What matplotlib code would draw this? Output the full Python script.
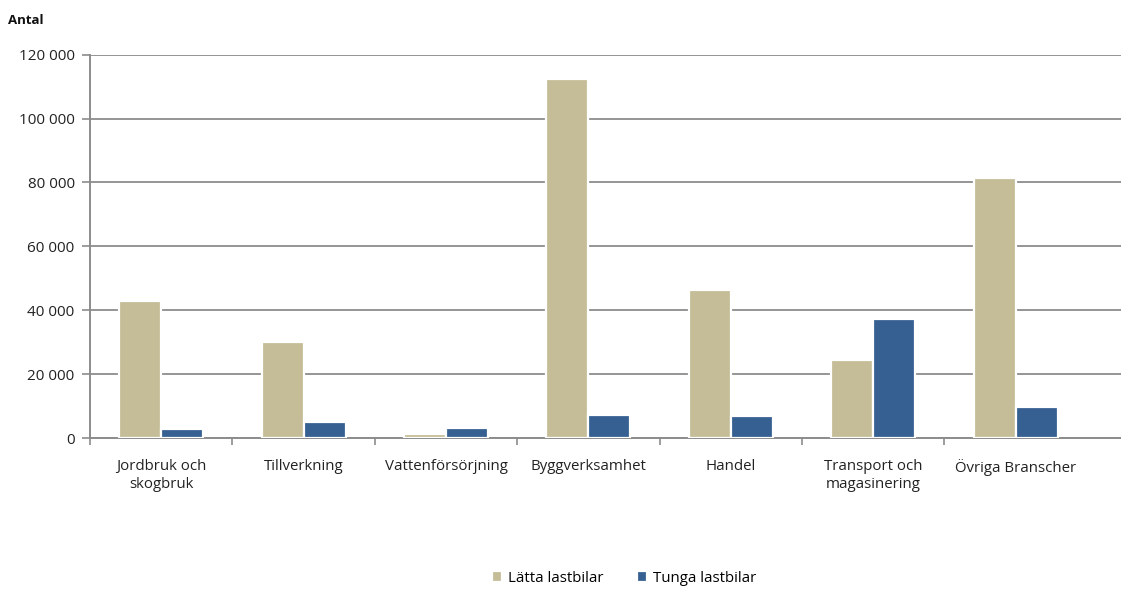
import matplotlib
matplotlib.use("Agg")
import matplotlib.pyplot as plt
import numpy as np
from matplotlib.ticker import FuncFormatter, MultipleLocator

categories = ["Jordbruk och\nskogbruk", "Tillverkning", "Vattenförsörjning",
              "Byggverksamhet", "Handel", "Transport och\nmagasinering",
              "Övriga Branscher"]
latta = [43000, 30000, 1200, 112500, 46200, 24400, 81300]
tunga = [2900, 4900, 3200, 7300, 6900, 37300, 9700]
series_names = ["Lätta lastbilar", "Tunga lastbilar"]

plt.rcParams['font.family'] = ['Open Sans', 'DejaVu Sans']

fig = plt.figure(figsize=(11.21, 5.90), dpi=100)
ax = fig.add_axes([90/1121, 152/590, 1 - 90/1121, (438-54.7)/590])

x = np.arange(len(categories))
w = 0.295
tan = "#C4BD97"
blue = "#376092"
ax.bar(x - w/2, latta, width=w, color=tan, edgecolor="white", linewidth=1.6,
       label=series_names[0], zorder=3)
ax.bar(x + w/2, tunga, width=w, color=blue, edgecolor="white", linewidth=1.6,
       label=series_names[1], zorder=3)

ax.set_ylim(0, 120000)
ax.set_xlim(-0.5, 6.74)
ax.yaxis.set_major_locator(MultipleLocator(20000))
ax.yaxis.set_major_formatter(FuncFormatter(lambda v, p: f"{int(v):,}".replace(",", " ")))
ax.grid(axis="y", color="#8c8c8c", linewidth=1.3, zorder=0)
ax.set_axisbelow(True)

ax.set_xticks(x)
ax.set_xticklabels(categories, fontsize=10.8, color="#222222", linespacing=1.3)
ax.set_xticks(np.arange(-0.5, 5.6, 1.0), minor=True)
ax.tick_params(axis="x", which="major", length=0, pad=15)
ax.tick_params(axis="x", which="minor", length=5, color="#8c8c8c", width=1.2)
ax.tick_params(axis="y", length=6, color="#8c8c8c", width=1.2, labelsize=11,
               labelcolor="#222222", pad=5)

for s in ["top", "right"]:
    ax.spines[s].set_visible(False)
for s in ["left", "bottom"]:
    ax.spines[s].set_color("#8c8c8c")
    ax.spines[s].set_linewidth(1.4)

fig.text(8/1121, 1 - 21/590, "Antal", fontsize=9.5, fontweight="bold",
         va="center", ha="left", color="#111111")

ax.legend(loc="center", bbox_to_anchor=(624/1121, 1 - 578/590),
          bbox_transform=fig.transFigure, ncol=2, frameon=False, fontsize=10.8,
          handlelength=0.7, handleheight=0.7, handletextpad=0.4, columnspacing=2.2,
          borderpad=0)

fig.savefig("out.png", dpi=100)
